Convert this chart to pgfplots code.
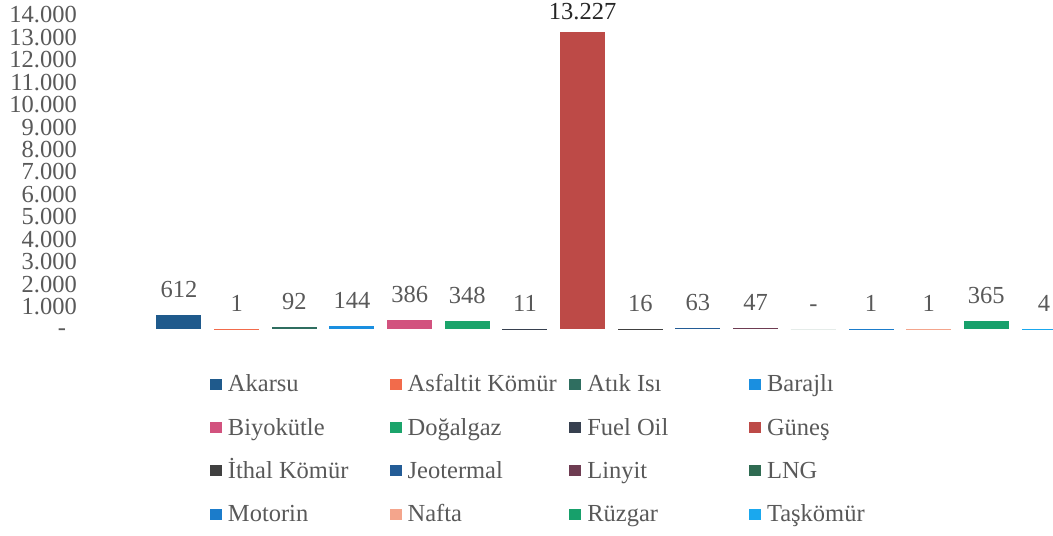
\documentclass[border=0pt]{standalone}
\usepackage{fontspec}
\setmainfont{Liberation Serif}
\usepackage{pgfplots}
\pgfplotsset{compat=1.18}
\definecolor{lbl}{HTML}{595959}
\definecolor{cAkarsu}{HTML}{1F5A8C}
\definecolor{cAsfaltit}{HTML}{F26B4B}
\definecolor{cAtik}{HTML}{2F6E60}
\definecolor{cBarajli}{HTML}{1A8FE0}
\definecolor{cBiyo}{HTML}{D2527E}
\definecolor{cDogal}{HTML}{1BA46B}
\definecolor{cFuel}{HTML}{37404F}
\definecolor{cGunes}{HTML}{BD4A47}
\definecolor{cIthal}{HTML}{404040}
\definecolor{cJeo}{HTML}{235C96}
\definecolor{cLinyit}{HTML}{6E3C52}
\definecolor{cLNG}{HTML}{2F6B52}
\definecolor{cMotorin}{HTML}{1B7CCB}
\definecolor{cNafta}{HTML}{F4A58C}
\definecolor{cRuzgar}{HTML}{17A06B}
\definecolor{cTas}{HTML}{1AA8EE}
\newcommand{\LE}[1]{\makebox[163.7bp][l]{\hspace{4bp}#1}}
\newcommand{\cf}{\fontsize{24.5bp}{29bp}\selectfont}
\begin{document}
\begin{tikzpicture}
\begin{axis}[
  at={(80bp,207bp)}, anchor=south west,
  scale only axis, width=973bp, height=314bp,
  ybar, bar width=45bp,
  xmin=-1.716, xmax=15.156, ymin=0, ymax=14000,
  axis line style={draw=none}, major tick length=0pt,
  xtick=\empty, scaled y ticks=false,
  ytick={0,1000,2000,3000,4000,5000,6000,7000,8000,9000,10000,11000,12000,13000,14000},
  yticklabels={\smash{\raisebox{-6bp}{\makebox[19bp][l]{-}}},1.000,2.000,3.000,4.000,5.000,6.000,7.000,8.000,9.000,10.000,11.000,12.000,13.000,14.000},
  yticklabel style={font=\cf, text=lbl, inner sep=0pt, anchor=east, xshift=-3bp},
  clip=false,
  nodes near coords, point meta=explicit symbolic,
  every node near coord/.append style={font=\cf, text=lbl, inner sep=0pt, anchor=south, yshift=17bp},
  every axis plot post/.append style={bar shift=0pt, draw=none,
     legend image code/.code={\fill[##1] (0bp,2bp) rectangle (12bp,13bp);}},
  legend columns=4,
  legend style={at={(0.1336,-0.1401)}, anchor=north west, draw=none, fill=none,
     inner sep=0pt, outer sep=0pt, font=\cf,
     cells={anchor=base west, inner sep=0pt, text height=17bp, text depth=6bp, text=lbl},
     row sep=20.7bp},
]
\addplot[fill=cAkarsu] coordinates {(0,612) [612]};
\addlegendentry{\LE{Akarsu}}
\addplot[fill=cAsfaltit] coordinates {(1,1) [1]};
\addlegendentry{\LE{Asfaltit Kömür}}
\addplot[fill=cAtik] coordinates {(2,92) [92]};
\addlegendentry{\LE{Atık Isı}}
\addplot[fill=cBarajli] coordinates {(3,144) [144]};
\addlegendentry{\LE{Barajlı}}
\addplot[fill=cBiyo] coordinates {(4,386) [386]};
\addlegendentry{\LE{Biyokütle}}
\addplot[fill=cDogal] coordinates {(5,348) [348]};
\addlegendentry{\LE{Doğalgaz}}
\addplot[fill=cFuel] coordinates {(6,11) [11]};
\addlegendentry{\LE{Fuel Oil}}
\addplot[fill=cGunes, every node near coord/.append style={yshift=-5bp, text=black!85}] coordinates {(7,13227) [13.227]};
\addlegendentry{\LE{Güneş}}
\addplot[fill=cIthal] coordinates {(8,16) [16]};
\addlegendentry{\LE{İthal Kömür}}
\addplot[fill=cJeo] coordinates {(9,63) [63]};
\addlegendentry{\LE{Jeotermal}}
\addplot[fill=cLinyit] coordinates {(10,47) [47]};
\addlegendentry{\LE{Linyit}}
\addplot[fill=cLNG] coordinates {(11,0) [-]};
\addlegendentry{\LE{LNG}}
\addplot[fill=cMotorin] coordinates {(12,1) [1]};
\addlegendentry{\LE{Motorin}}
\addplot[fill=cNafta] coordinates {(13,1) [1]};
\addlegendentry{\LE{Nafta}}
\addplot[fill=cRuzgar] coordinates {(14,365) [365]};
\addlegendentry{\LE{Rüzgar}}
\addplot[fill=cTas] coordinates {(15,4) [4]};
\addlegendentry{\LE{Taşkömür}}
\end{axis}
\pgfresetboundingbox
\useasboundingbox (0,0) rectangle (1053bp,536bp);
\end{tikzpicture}
\end{document}
